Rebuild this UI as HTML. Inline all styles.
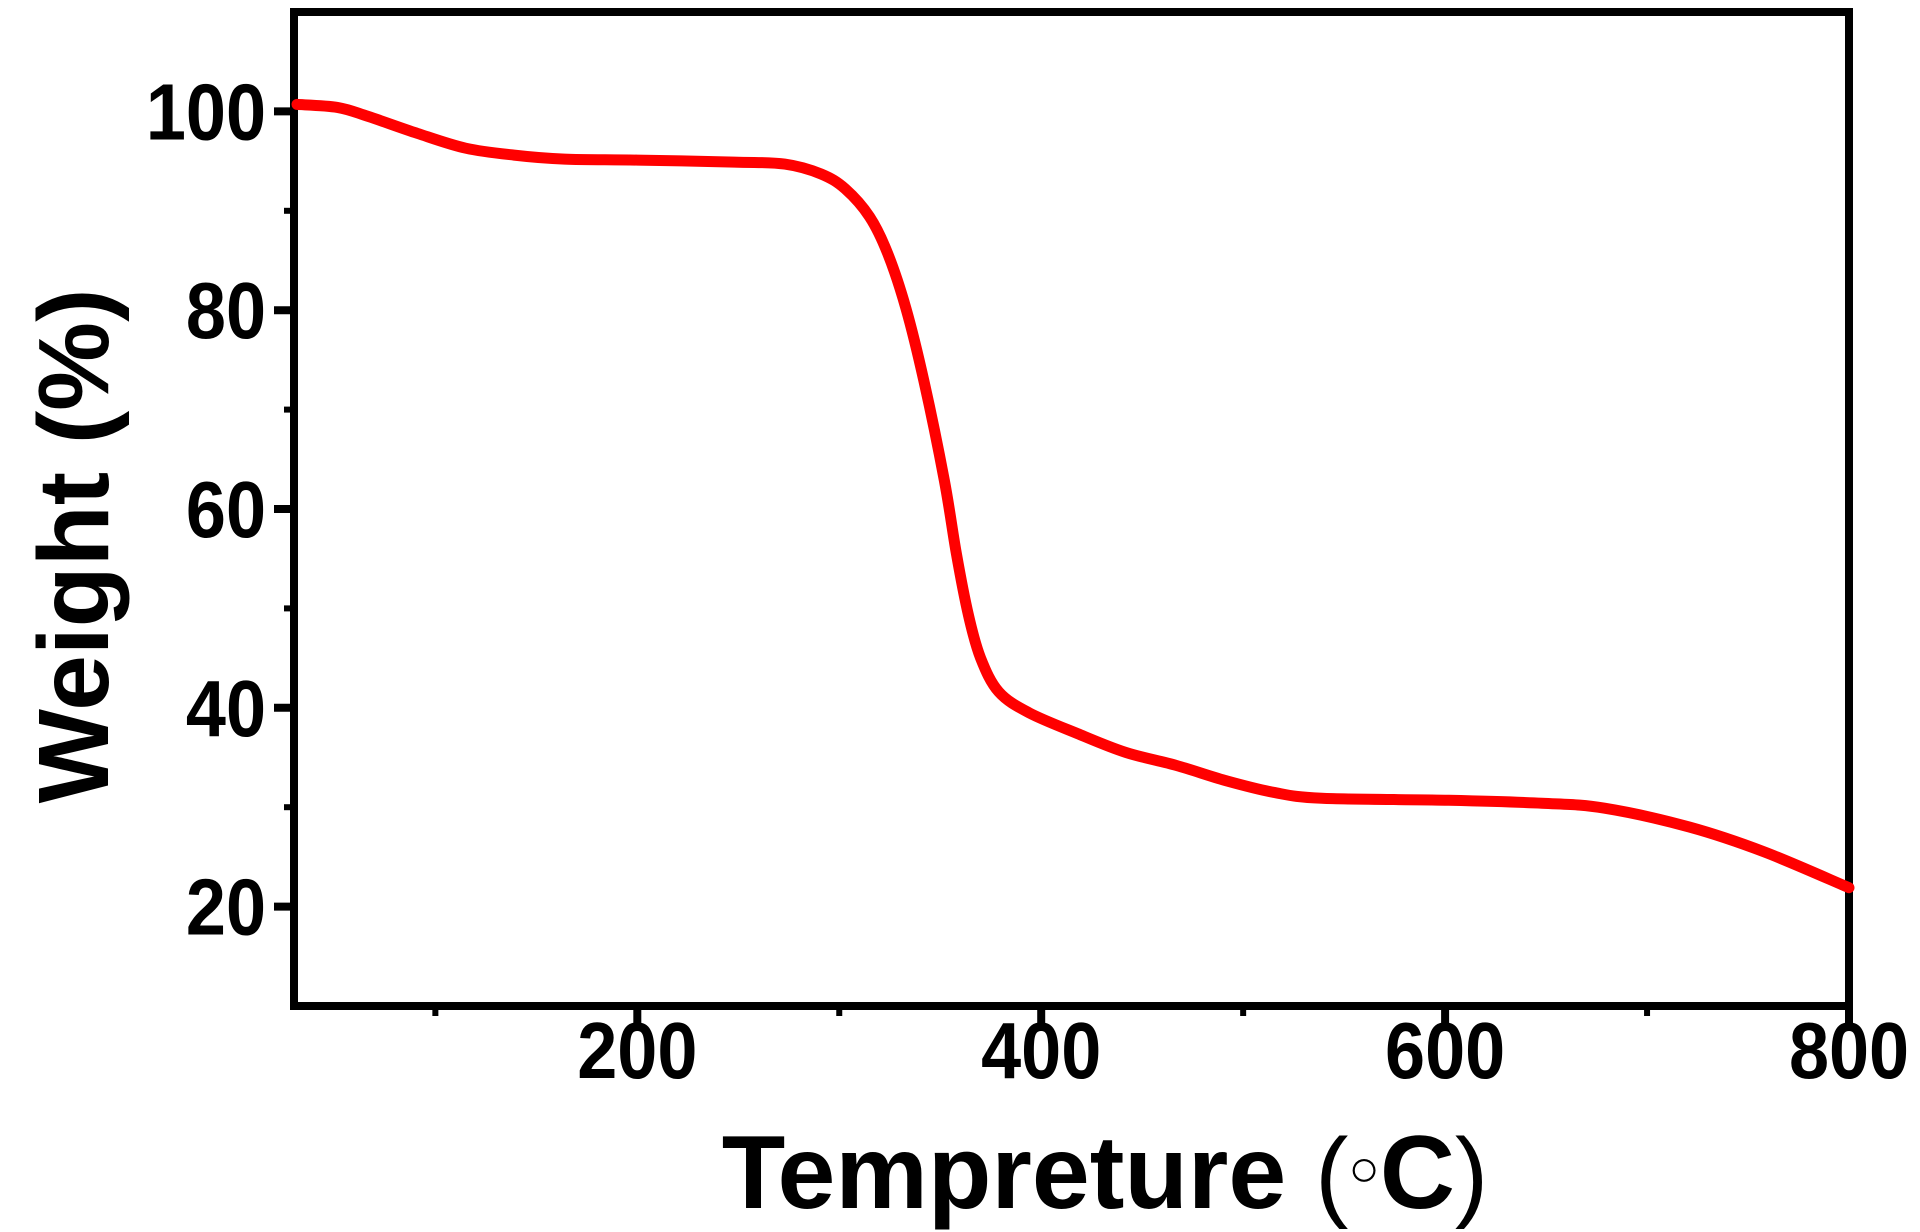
<!DOCTYPE html>
<html><head><meta charset="utf-8"><style>
html,body{margin:0;padding:0;background:#fff;}
svg{display:block;font-family:"Liberation Sans",Arial,sans-serif;}
</style></head><body>
<svg id="chart" width="1920" height="1232" viewBox="0 0 1920 1232">
<g id="axes"></g>
<path id="curve" fill="none" stroke="#ff0000" stroke-width="11" stroke-linejoin="round" stroke-linecap="round"></path>
<text x="1105" y="1208" text-anchor="middle" font-size="104" font-weight="bold">Tempreture <tspan font-weight="normal" font-size="100">(</tspan><tspan font-weight="normal" font-size="52" dy="-22">○</tspan><tspan dy="22">C</tspan><tspan font-weight="normal" font-size="100">)</tspan></text>
<text transform="translate(108,546) rotate(-90)" text-anchor="middle" font-size="100" font-weight="bold">Weight (%)</text>
</svg>
<script>
const temps = [31.5,51.5,66.7,91,115,139,164,200,248,273,291,303,315,324,333,342,352,358,364,370,379,394,418,442,467,491,515,539,600,648,679,721,758,800];
const weights = [100.7,100.4,99.5,97.8,96.3,95.6,95.2,95.1,94.9,94.7,93.7,92.2,89.4,85.7,80.2,72.8,62.9,55.5,49.3,45,41.6,39.5,37.4,35.5,34.2,32.7,31.5,30.9,30.7,30.4,29.9,28.0,25.5,21.9];
const xTicks = [200,400,600,800];
const xMinor = [100,300,500,700];
const yTicks = [20,40,60,80,100];
const yMinor = [30,50,70,90];

const L=294,R=1849,T=12,B=1006,X0=30,X1=800,Y0=10,Y1=110;
function sx(v){return L+(v-X0)/(X1-X0)*(R-L);}
function sy(v){return B-(v-Y0)/(Y1-Y0)*(B-T);}
const NS='http://www.w3.org/2000/svg';
const axes=document.getElementById('axes');
function mk(tag,attrs,parent){const e=document.createElementNS(NS,tag);for(const k in attrs)e.setAttribute(k,attrs[k]);(parent||axes).appendChild(e);return e;}

const frame=mk('rect',{x:L,y:T,width:R-L,height:B-T,fill:'none',stroke:'#000','stroke-width':8});



xTicks.forEach(v=>{
  const t=mk('line',{x1:sx(v),x2:sx(v),y1:B,y2:B+20,stroke:'#000','stroke-width':8});
  
  
  const lb=mk('text',{'text-anchor':'middle','font-size':80,'font-weight':'bold',transform:'translate('+sx(v)+',1078) scale(0.9,1)'});
  lb.textContent=v;
  
  
});
xMinor.forEach(v=>{
  const t=mk('line',{x1:sx(v),x2:sx(v),y1:B,y2:B+10,stroke:'#000','stroke-width':6});
  
  
});
yTicks.forEach(v=>{
  const t=mk('line',{x1:L,x2:L-20,y1:sy(v),y2:sy(v),stroke:'#000','stroke-width':8});
  
  
  const lb=mk('text',{'text-anchor':'end','font-size':80,'font-weight':'bold',transform:'translate(266,'+(sy(v)+28)+') scale(0.9,1)'});
  lb.textContent=v;
  
  
});
yMinor.forEach(v=>{
  const t=mk('line',{x1:L,x2:L-10,y1:sy(v),y2:sy(v),stroke:'#000','stroke-width':6});
  
  
});

// Catmull-Rom smoothing through data points
const pts=temps.map((t,i)=>[sx(t),sy(weights[i])]);
let d='M'+pts[0][0].toFixed(1)+','+pts[0][1].toFixed(1);
for(let i=0;i<pts.length-1;i++){
  const p0=pts[Math.max(0,i-1)],p1=pts[i],p2=pts[i+1],p3=pts[Math.min(pts.length-1,i+2)];
  const c1=[p1[0]+(p2[0]-p0[0])/6,p1[1]+(p2[1]-p0[1])/6];
  const c2=[p2[0]-(p3[0]-p1[0])/6,p2[1]-(p3[1]-p1[1])/6];
  d+='C'+c1[0].toFixed(1)+','+c1[1].toFixed(1)+' '+c2[0].toFixed(1)+','+c2[1].toFixed(1)+' '+p2[0].toFixed(1)+','+p2[1].toFixed(1);
}
document.getElementById('curve').setAttribute('d',d);
</script>
</body></html>
